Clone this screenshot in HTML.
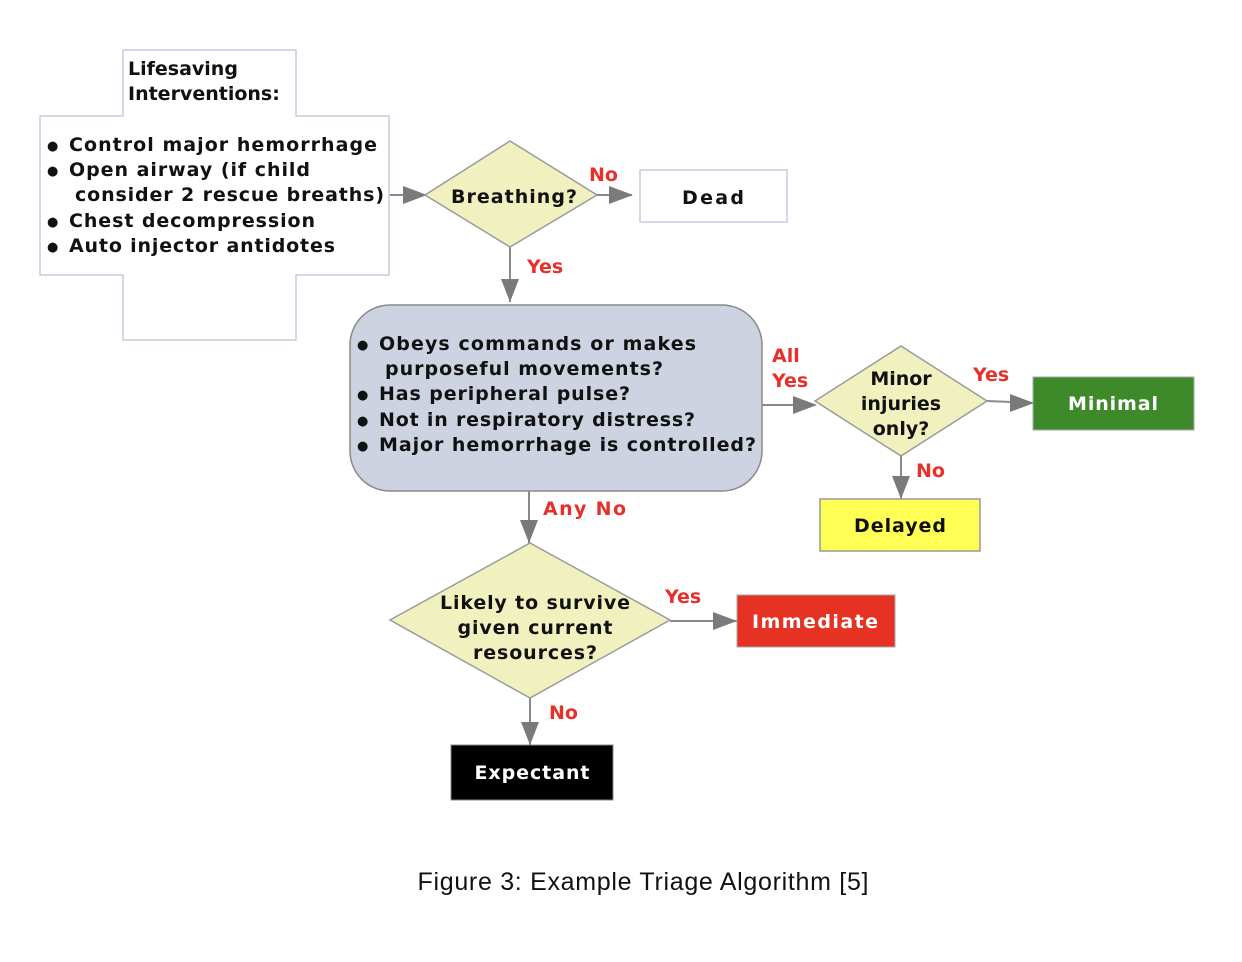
<!DOCTYPE html>
<html><head><meta charset="utf-8"><style>
html,body{margin:0;padding:0;background:#fff;}
svg{display:block;}
.t{font-family:"DejaVu Sans","Liberation Sans",sans-serif;font-weight:bold;font-size:19px;fill:#111;}
.r{font-family:"DejaVu Sans","Liberation Sans",sans-serif;font-weight:bold;font-size:19px;fill:#e8302a;}
.w{font-family:"DejaVu Sans","Liberation Sans",sans-serif;font-weight:bold;font-size:19px;fill:#fff;}
.b{font-size:13px;}
</style></head><body>
<svg width="1242" height="962" viewBox="0 0 1242 962" xmlns="http://www.w3.org/2000/svg">
<g stroke="#8a8a8a" stroke-width="2" fill="none">
<line x1="389" y1="195" x2="425" y2="195"/>
<line x1="597" y1="195" x2="632" y2="195"/>
<line x1="510" y1="247" x2="510" y2="302"/>
<line x1="762" y1="405" x2="815" y2="405"/>
<line x1="987" y1="401" x2="1033" y2="403"/>
<line x1="901" y1="456" x2="901" y2="499"/>
<line x1="529" y1="491" x2="529" y2="543"/>
<line x1="670" y1="621" x2="737" y2="621"/>
<line x1="530" y1="698" x2="530" y2="745"/>
</g>
<g fill="#7a7a7a">
<path d="M403,186 L427,195 L403,204z"/>
<path d="M609,186 L633,195 L609,204z"/>
<path d="M501,279 L510,302 L519,279z"/>
<path d="M793,396 L817,405 L793,414z"/>
<path d="M1010,394 L1034,403 L1010,412z"/>
<path d="M892,476 L901,499 L910,476z"/>
<path d="M520,520 L529,543 L538,520z"/>
<path d="M713,612 L737,621 L713,630z"/>
<path d="M521,722 L530,745 L539,722z"/>
</g>
<path d="M123,50 H296 V116 H389 V275 H296 V340 H123 V275 H40 V116 H123 Z" fill="#fff" stroke="#c8cce0" stroke-width="1.5"/>
<text class="t" x="128" y="75">Lifesaving</text>
<text class="t" x="128" y="100">Interventions:</text>
<g class="t">
<text class="b" x="47" y="150">●</text><text x="69" y="151" textLength="308">Control major hemorrhage</text>
<text class="b" x="47" y="175">●</text><text x="69" y="176" textLength="241">Open airway (if child</text>
<text x="75" y="201" textLength="309">consider 2 rescue breaths)</text>
<text class="b" x="47" y="226">●</text><text x="69" y="227" textLength="246">Chest decompression</text>
<text class="b" x="47" y="251">●</text><text x="69" y="252" textLength="266">Auto injector antidotes</text>
</g>
<polygon points="510,141 597,195 510,247 425,195" fill="#f1f1c0" stroke="#9a9a9a" stroke-width="1.5"/>
<text class="t" x="514" y="203" text-anchor="middle" textLength="126">Breathing?</text>
<text class="r" x="589" y="181">No</text>
<rect x="640" y="170" width="147" height="52" fill="#fff" stroke="#c8cce0" stroke-width="1.5"/>
<text class="t" x="713" y="204" text-anchor="middle" textLength="62">Dead</text>
<text class="r" x="527" y="273">Yes</text>
<rect x="350" y="305" width="412" height="186" rx="40" fill="#cdd3e0" stroke="#8a8a8a" stroke-width="1.5"/>
<g class="t">
<text class="b" x="357" y="349">●</text><text x="379" y="350" textLength="317">Obeys commands or makes</text>
<text x="385" y="375" textLength="278">purposeful movements?</text>
<text class="b" x="357" y="399">●</text><text x="379" y="400" textLength="251">Has peripheral pulse?</text>
<text class="b" x="357" y="425">●</text><text x="379" y="426" textLength="316">Not in respiratory distress?</text>
<text class="b" x="357" y="450">●</text><text x="379" y="451" textLength="377">Major hemorrhage is controlled?</text>
</g>
<text class="r" x="772" y="362">All</text>
<text class="r" x="772" y="387">Yes</text>
<polygon points="901,346 987,401 901,456 815,401" fill="#f1f1c0" stroke="#9a9a9a" stroke-width="1.5"/>
<text class="t" x="901" y="385" text-anchor="middle">Minor</text>
<text class="t" x="901" y="410" text-anchor="middle">injuries</text>
<text class="t" x="901" y="435" text-anchor="middle">only?</text>
<text class="r" x="973" y="381">Yes</text>
<rect x="1033" y="377" width="161" height="53" fill="#3e8a2a" stroke="#aaa" stroke-width="1"/>
<text class="w" x="1113" y="410" text-anchor="middle" textLength="90">Minimal</text>
<text class="r" x="916" y="477">No</text>
<rect x="820" y="499" width="160" height="52" fill="#ffff55" stroke="#999" stroke-width="1.5"/>
<text class="t" x="900" y="532" text-anchor="middle" textLength="92">Delayed</text>
<text class="r" x="543" y="515" textLength="83">Any No</text>
<polygon points="530,543 670,620 530,698 390,620" fill="#f1f1c0" stroke="#9a9a9a" stroke-width="1.5"/>
<text class="t" x="535" y="609" text-anchor="middle" textLength="190">Likely to survive</text>
<text class="t" x="535" y="634" text-anchor="middle" textLength="155">given current</text>
<text class="t" x="535" y="659" text-anchor="middle" textLength="124">resources?</text>
<text class="r" x="665" y="603">Yes</text>
<rect x="737" y="595" width="158" height="52" fill="#e53222" stroke="#aaa" stroke-width="1"/>
<text class="w" x="815" y="628" text-anchor="middle" textLength="126">Immediate</text>
<text class="r" x="549" y="719">No</text>
<rect x="451" y="745" width="162" height="55" fill="#000" stroke="#888" stroke-width="1"/>
<text class="w" x="532" y="779" text-anchor="middle" textLength="115">Expectant</text>
<text x="643" y="890" text-anchor="middle" font-family="'Liberation Sans',sans-serif" font-size="25" fill="#111" textLength="451">Figure 3: Example Triage Algorithm [5]</text>
</svg>
</body></html>
